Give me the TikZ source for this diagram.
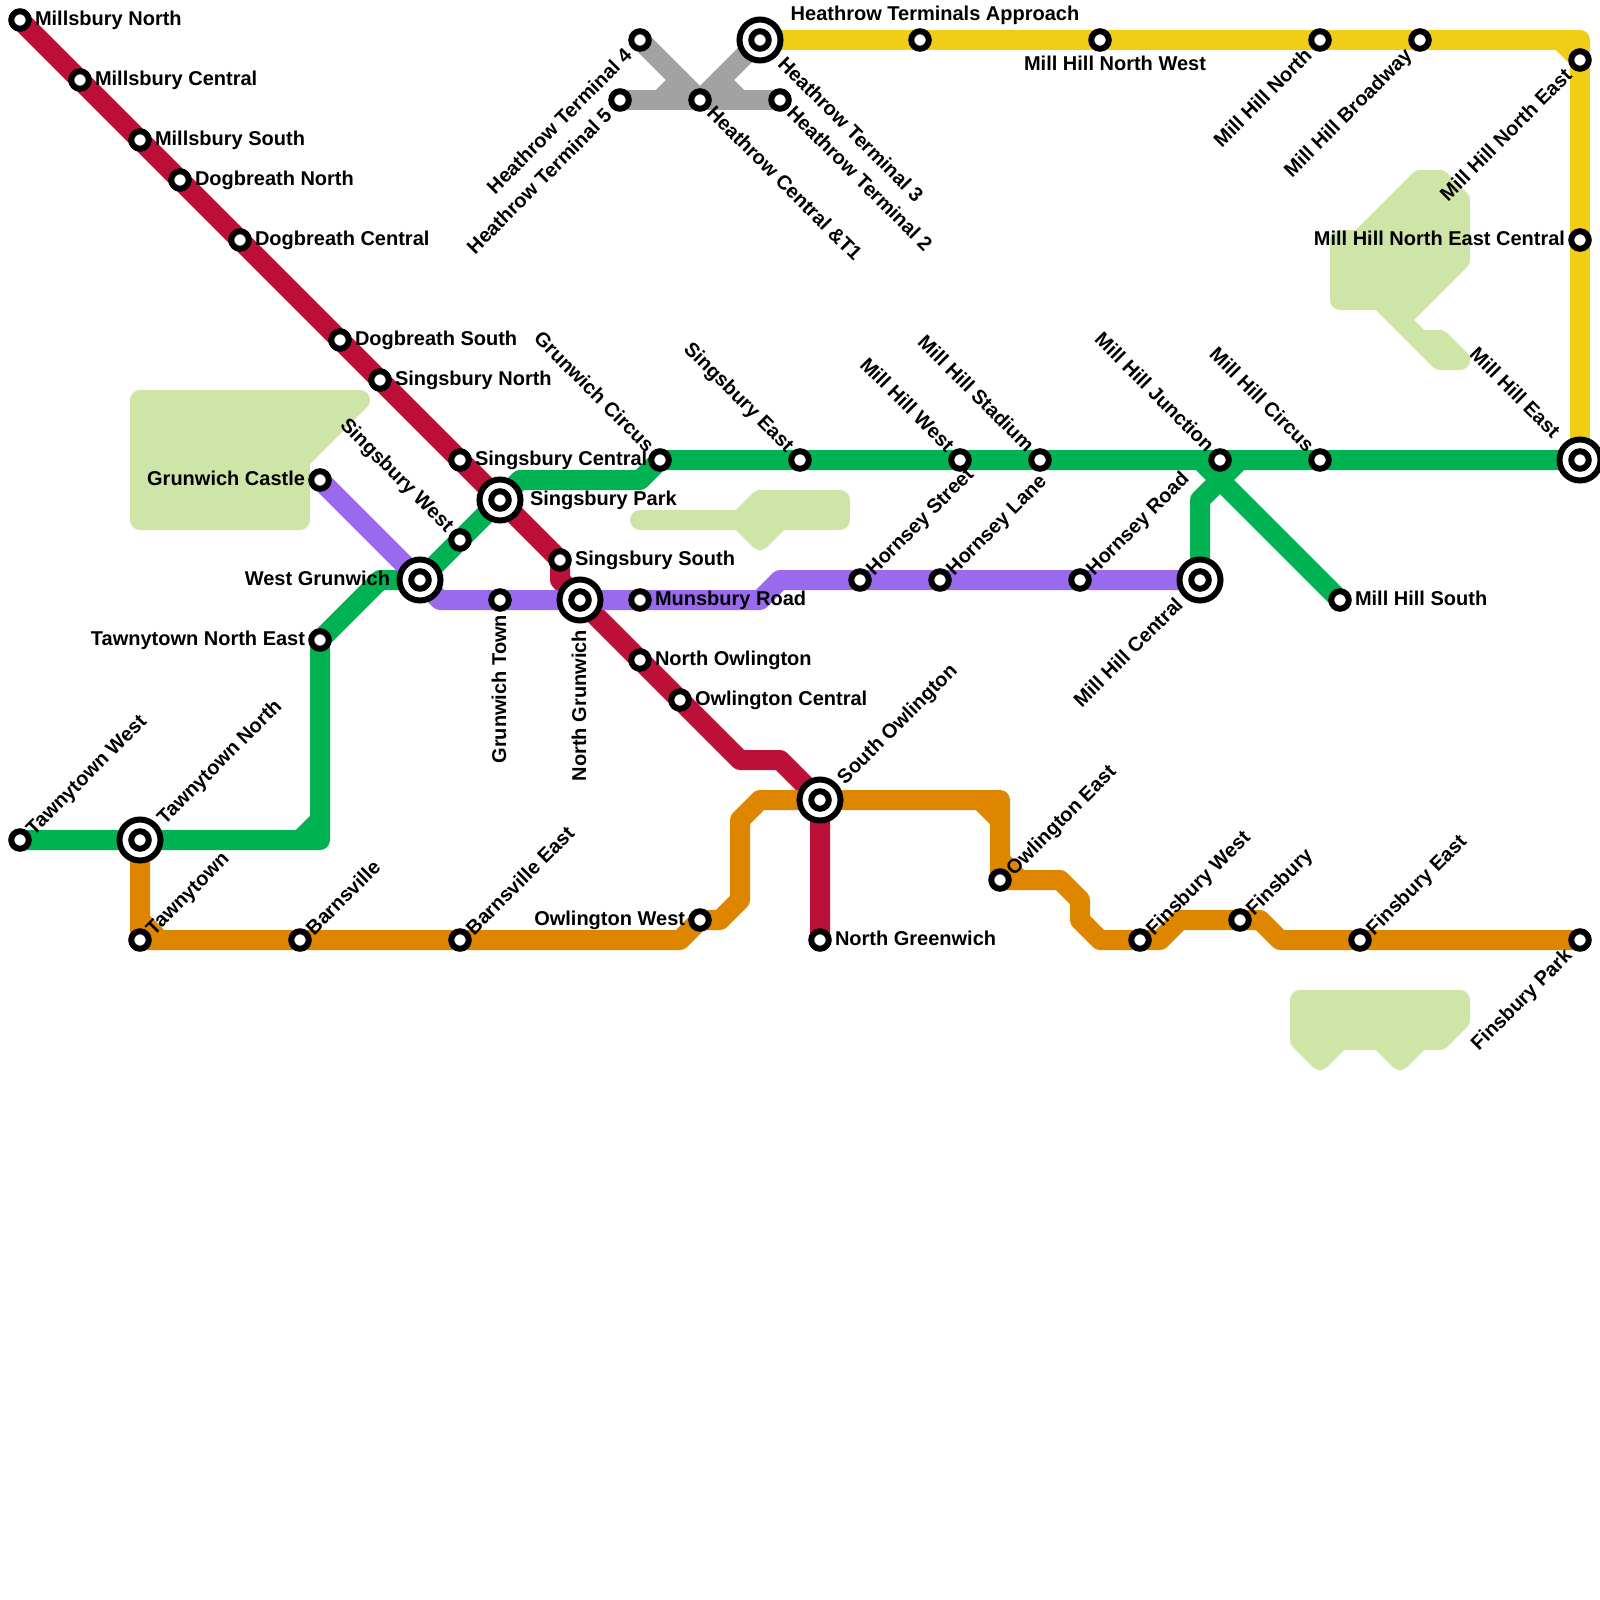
\documentclass[tikz,border=0pt]{standalone}
\usepackage{fontspec}
\setmainfont{Liberation Sans}
\usetikzlibrary{calc}
\pgfdeclarelayer{parks}\pgfdeclarelayer{lines}\pgfdeclarelayer{labels}
\pgfsetlayers{parks,lines,main,labels}
\definecolor{cred}{RGB}{189,16,56}
\definecolor{cgreen}{RGB}{0,178,81}
\definecolor{cpurple}{RGB}{154,106,238}
\definecolor{corange}{RGB}{223,134,0}
\definecolor{cyellow}{RGB}{240,206,21}
\definecolor{cgray}{RGB}{162,162,162}
\definecolor{cpark}{RGB}{207,228,167}
\tikzset{
 x=1pt,y=-1pt,
 metro/.style={line width=20pt,line join=round,line cap=round},
 park/.style={draw=cpark,fill=cpark,line width=20pt,line join=round},
 stn/.style={circle,draw=black,fill=white,line width=6pt,minimum size=17.5pt,inner sep=0pt,outer sep=0pt},
 hub/.style={circle,draw=black,fill=white,line width=6pt,minimum size=41pt,inner sep=0pt,outer sep=0pt},
 hubin/.style={circle,draw=black,fill=white,line width=6pt,minimum size=17.5pt,inner sep=0pt,outer sep=0pt},
 lb/.style={font=\fontsize{20}{20}\selectfont\bfseries,inner sep=0pt,outer sep=0pt,text height=14.4pt,text depth=0pt,text=black},
}
\newcommand{\St}[3]{\node[stn] (#1) at (#2,#3) {};}
\newcommand{\Hb}[3]{\node[hub] (#1) at (#2,#3) {};\node[hubin] (#1i) at (#2,#3) {};}
\newcommand{\LR}[3]{\node[lb,anchor=west] (l#1) at ($(#1)+(#2,-2)$) {#3};}
\newcommand{\LL}[3]{\node[lb,anchor=east] (l#1) at ($(#1)+(-#2,-2)$) {#3};}
\newcommand{\LUR}[3]{\node[lb,anchor=west,rotate=45] (l#1) at ($(#1)+(#2,-#2)$) {#3};}
\newcommand{\LDL}[3]{\node[lb,anchor=east,rotate=45] (l#1) at ($(#1)+(-#2,#2)$) {#3};}
\newcommand{\LDR}[3]{\node[lb,anchor=west,rotate=-45] (l#1) at ($(#1)+(#2,#2)+(1,-1)$) {#3};}
\newcommand{\LUL}[3]{\node[lb,anchor=east,rotate=-45] (l#1) at ($(#1)+(-#2,-#2)+(1,-2)$) {#3};}
\newcommand{\LDN}[3]{\node[lb,anchor=east,rotate=90] (l#1) at ($(#1)+(-1,#2)$) {#3};}
\begin{document}
\begin{tikzpicture}
\useasboundingbox (0,0) rectangle (1600,1600);
% stations
\St{mn}{20}{20}\St{mc}{80}{80}\St{ms}{140}{140}\St{dn}{180}{180}\St{dc}{240}{240}\St{ds}{340}{340}
\St{sn}{380}{380}\St{sc}{460}{460}\Hb{sp}{500}{500}\St{ss}{560}{560}\Hb{ng}{580}{600}
\St{no}{640}{660}\St{oc}{680}{700}\Hb{so}{820}{800}\St{gw}{820}{940}
\St{tw}{20}{840}\Hb{tn}{140}{840}\St{tt}{140}{940}\St{bv}{300}{940}\St{be}{460}{940}
\St{ow}{700}{920}\St{oe}{1000}{880}\St{fw}{1140}{940}\St{fb}{1240}{920}\St{fe}{1360}{940}\St{fp}{1580}{940}
\St{tne}{320}{640}\Hb{wg}{420}{580}\St{sw}{460}{540}\St{gc}{660}{460}\St{se}{800}{460}
\St{hw}{960}{460}\St{hs}{1040}{460}\St{hj}{1220}{460}\St{hc}{1320}{460}\Hb{he}{1580}{460}
\Hb{hm}{1200}{580}\St{hso}{1340}{600}
\St{gca}{320}{480}\St{gt}{500}{600}\St{mr}{640}{600}\St{hst}{860}{580}\St{hl}{940}{580}\St{hr}{1080}{580}
\Hb{t3}{760}{40}\St{ta}{920}{40}\St{nw}{1100}{40}\St{mhn}{1320}{40}\St{mb}{1420}{40}\St{ne}{1580}{60}\St{nec}{1580}{240}
\St{t4}{640}{40}\St{t5}{620}{100}\St{hce}{700}{100}\St{t2}{780}{100}
% connectors
\begin{pgfonlayer}{lines}
\draw[metro,cred] (mn.center)--(mc.center)--(ms.center)--(dn.center)--(dc.center)--(ds.center)--(sn.center)--(sc.center)--(sp.center)--(ss.center)--(560,580)--(ng.center)--(no.center)--(oc.center)--(740,760)--(780,760)--(so.center)--(gw.center);
\draw[metro,cgray] (t4.center)--(hce.center)--(t3.center);
\draw[metro,cgray] (t5.center)--(hce.center)--(t2.center);
\draw[metro,cgray] (680,80)--(660,100) (720,80)--(740,100);
\draw[metro,corange] (tn.center)--(tt.center)--(bv.center)--(be.center)--(680,940)--(ow.center)--(720,920)--(740,900)--(740,820)--(760,800)--(so.center)--(1000,800)--(oe.center)--(1060,880)--(1080,900)--(1080,920)--(1100,940)--(fw.center)--(1160,940)--(1180,920)--(fb.center)--(1260,920)--(1280,940)--(fe.center)--(fp.center);
\draw[metro,corange] (140,920)--(160,940) (980,800)--(1000,820) (1000,860)--(1020,880);
\draw[metro,cgreen] (tw.center)--(tn.center)--(320,840)--(tne.center)--(380,580)--(wg.center)--(sw.center)--(sp.center)--(520,480)--(640,480)--(gc.center)--(se.center)--(hw.center)--(hs.center)--(hj.center)--(hc.center)--(he.center);
\draw[metro,cgreen] (300,840)--(320,820);
\draw[metro,cgreen] (hm.center)--(1200,500)--(1240,460);
\draw[metro,cgreen] (1200,460)--(hso.center);
\draw[metro,cpurple] (gca.center)--(wg.center)--(440,600)--(gt.center)--(ng.center)--(mr.center)--(760,600)--(780,580)--(hst.center)--(hl.center)--(hr.center)--(hm.center);
\draw[metro,cyellow] (t3.center)--(ta.center)--(nw.center)--(mhn.center)--(mb.center)--(1580,40)--(ne.center)--(nec.center)--(he.center);
\draw[metro,cyellow] (1560,40)--(1580,60);
\end{pgfonlayer}
% parks
\begin{pgfonlayer}{parks}
\draw[park] (140,400)--(360,400)--(300,460)--(300,520)--(140,520)--cycle;
\draw[park] (640,520)--(740,520)--(760,500)--(840,500)--(840,520)--(780,520)--(760,540)--(740,520)--cycle;
\draw[park] (1340,300)--(1380,300)--(1440,360)--(1460,360)--(1440,340)--(1420,340)--(1400,320)--(1460,260)--(1460,200)--(1440,180)--(1420,180)--(1360,240)--(1340,240)--cycle;
\draw[park] (1300,1000)--(1460,1000)--(1460,1020)--(1440,1040)--(1420,1040)--(1400,1060)--(1380,1040)--(1340,1040)--(1320,1060)--(1300,1040)--cycle;
\end{pgfonlayer}
% labels
\begin{pgfonlayer}{labels}
\LR{mn}{15}{Millsbury North}\LR{mc}{15}{Millsbury Central}\LR{ms}{15}{Millsbury South}
\LR{dn}{15}{Dogbreath North}\LR{dc}{15}{Dogbreath Central}\LR{ds}{15}{Dogbreath South}
\LR{sn}{15}{Singsbury North}\LR{sc}{15}{Singsbury Central}\LR{sp}{30}{Singsbury Park}\LR{ss}{15}{Singsbury South}
\LR{mr}{15}{Munsbury Road}\LR{no}{15}{North Owlington}\LR{oc}{15}{Owlington Central}\LR{gw}{15}{North Greenwich}\LR{hso}{15}{Mill Hill South}
\LL{gca}{15}{Grunwich Castle}\LL{wg}{30}{West Grunwich}\LL{tne}{15}{Tawnytown North East}\LL{ow}{15}{Owlington West}\LL{nec}{15}{Mill Hill North East Central}
\LUL{sw}{10}{Singsbury West}\LUL{gc}{10}{Grunwich Circus}\LUL{se}{10}{Singsbury East}\LUL{hw}{10}{Mill Hill West}\LUL{hs}{10}{Mill Hill Stadium}\LUL{hj}{10}{Mill Hill Junction}\LUL{hc}{10}{Mill Hill Circus}\LUL{he}{24}{Mill Hill East}
\LUR{tw}{9}{Tawnytown West}\LUR{tn}{20}{Tawnytown North}\LUR{tt}{9}{Tawnytown}\LUR{bv}{9}{Barnsville}\LUR{be}{9}{Barnsville East}
\LUR{so}{20}{South Owlington}\LUR{oe}{9}{Owlington East}\LUR{fw}{9}{Finsbury West}\LUR{fb}{9}{Finsbury}\LUR{fe}{9}{Finsbury East}
\LUR{hst}{9}{Hornsey Street}\LUR{hl}{9}{Hornsey Lane}\LUR{hr}{9}{Hornsey Road}
\LDL{hm}{21}{Mill Hill Central}\LDL{fp}{12}{Finsbury Park}\LDL{t4}{12}{Heathrow Terminal 4}\LDL{t5}{12}{Heathrow Terminal 5}\LDL{mhn}{12}{Mill Hill North}\LDL{mb}{12}{Mill Hill Broadway}\LDL{ne}{12}{Mill Hill North East}
\LDR{t3}{21}{Heathrow Terminal 3}\LDR{t2}{10}{Heathrow Terminal 2}\LDR{hce}{10}{Heathrow Central \&T1}
\LDN{gt}{15}{Grunwich Town}\LDN{ng}{30}{North Grunwich}
\node[lb,anchor=center] (lta) at ($(ta)+(15,-27)$) {Heathrow Terminals Approach};
\node[lb,anchor=center] (lnw) at ($(nw)+(15,23)$) {Mill Hill North West};
\end{pgfonlayer}
\end{tikzpicture}
\end{document}
